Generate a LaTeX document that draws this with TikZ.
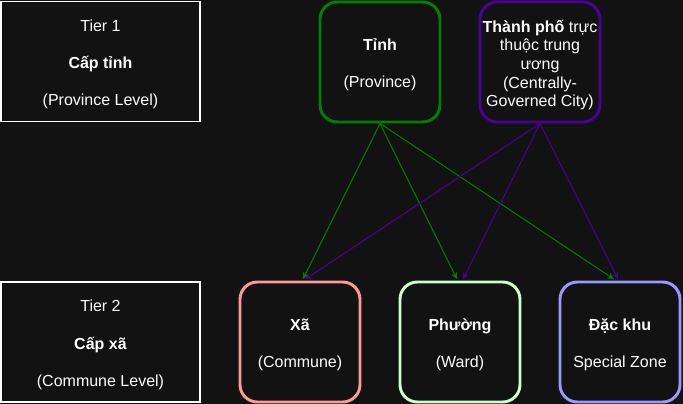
\documentclass[tikz,border=0pt]{standalone}
\usepackage{fontspec}
\setmainfont{Liberation Sans}
\usetikzlibrary{arrows.meta}
\definecolor{bg}{HTML}{121212}
\definecolor{cgreen}{HTML}{008000}
\definecolor{cpurple}{HTML}{4C0099}
\definecolor{cred}{HTML}{FF9999}
\definecolor{cmint}{HTML}{CCFFCC}
\definecolor{cblue}{HTML}{9999FF}
\tikzset{
  tierbox/.style={draw=white, line width=0.9pt, fill=bg, minimum width=149.25pt, minimum height=90pt, inner sep=0pt},
  unitbox/.style={draw=#1, line width=2.2pt, fill=bg, rounded corners=13pt, minimum width=90pt, minimum height=90pt, inner sep=0pt},
  inner/.style={label={[align=center, text=white, yshift=-2.25pt, inner sep=0pt]center:{#1}}},
  link/.style={draw=#1, line width=0.75pt, -{Stealth[length=5pt,width=4.5pt]}},
}
\begin{document}
\begin{tikzpicture}[x=0.75pt,y=-0.75pt, font=\fontsize{12pt}{14pt}\selectfont]
\fill[bg] (0,0) rectangle (683,404);
\useasboundingbox (0,0) rectangle (683,404);
\node[tierbox, inner={Tier 1\\[14pt]\textbf{Cấp tỉnh}\\[14pt](Province Level)}] (t1) at (100.5,61.5) {};
\node[tierbox, inner={Tier 2\\[14pt]\textbf{Cấp xã}\\[14pt](Commune Level)}] (t2) at (100.5,342) {};
\node[unitbox=cgreen, inner={\textbf{Tỉnh}\\[14pt](Province)}] (tinh) at (380,62) {};
\node[unitbox=cpurple, inner={\textbf{Thành phố} trực\\thuộc trung\\ương\\(Centrally-\\Governed City)}] (tp) at (540,62) {};
\node[unitbox=cred, inner={\textbf{Xã}\\[14pt](Commune)}] (xa) at (300,342) {};
\node[unitbox=cmint, inner={\textbf{Phường}\\[14pt](Ward)}] (phuong) at (460,342) {};
\node[unitbox=cblue, inner={\textbf{Đặc khu}\\[14pt]Special Zone}] (dk) at (620,342) {};
\draw[link=cgreen] (tinh.south) -- ([xshift=2.25pt,yshift=1pt]xa.north);
\draw[link=cgreen] (tinh.south) -- ([xshift=-2.25pt,yshift=1pt]phuong.north);
\draw[link=cgreen] (tinh.south) -- ([xshift=-4.5pt,yshift=1pt]dk.north);
\draw[link=cpurple] (tp.south) -- ([xshift=4pt,yshift=1pt]xa.north);
\draw[link=cpurple] (tp.south) -- ([xshift=2.25pt,yshift=1pt]phuong.north);
\draw[link=cpurple] (tp.south) -- ([xshift=-1.5pt,yshift=1pt]dk.north);
\end{tikzpicture}
\end{document}
